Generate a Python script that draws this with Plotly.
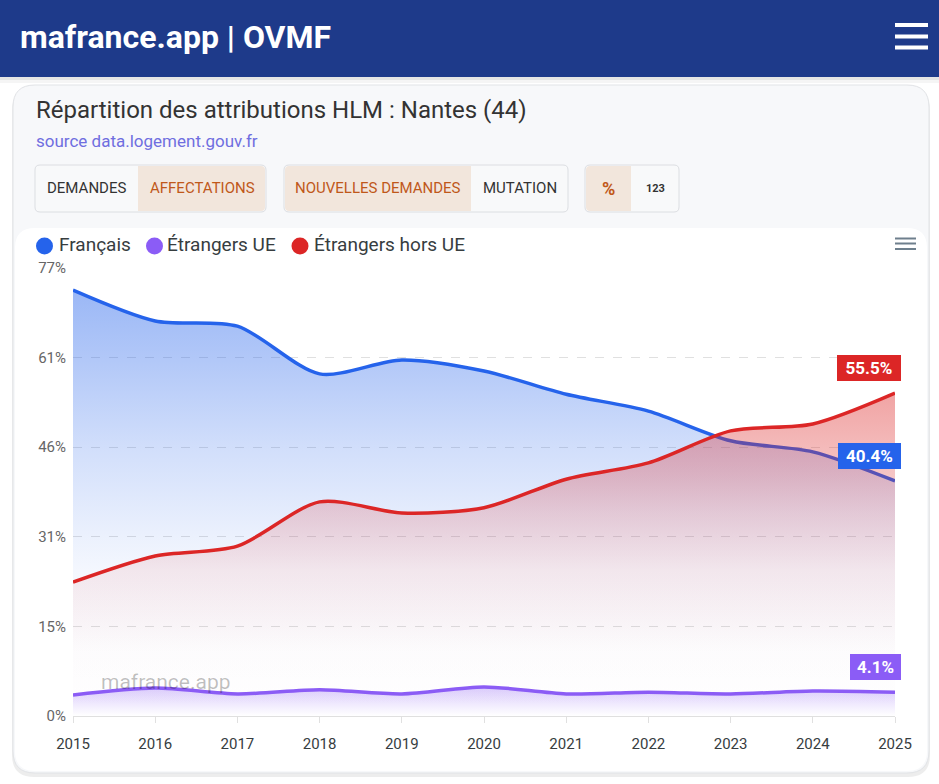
"""
HLM allocation breakdown for Nantes (44), rebuilt with Plotly.
"""

import plotly.graph_objects as go

# Data
YEARS = [2015, 2016, 2017, 2018, 2019, 2020, 2021, 2022, 2023, 2024, 2025]
FRANCAIS = [73.2, 67.9, 67.0, 58.8, 61.2, 59.3, 55.3, 52.4, 47.3, 45.4, 40.4]
ETRANGERS_UE = [3.6, 4.8, 3.8, 4.5, 3.8, 5.0, 3.8, 4.1, 3.8, 4.3, 4.1]
ETRANGERS_HORS_UE = [23.0, 27.5, 29.2, 36.8, 34.9, 35.8, 40.7, 43.5, 49.0, 50.2, 55.5]
Y_TICK_VALUES = [0, 15.4, 30.8, 46.2, 61.6, 77]
Y_TICK_LABELS = ['0%', '15%', '31%', '46%', '61%', '77%']

# fill opacity along the height of each area (0 = baseline, 1 = series max)
BLUE_FADE = [(0, 0), (0.15, 0.01), (0.34, 0.05), (0.42, 0.09), (0.63, 0.21), (0.83, 0.35), (1, 0.46)]
PURPLE_FADE = [(0, 0), (1, 0.32)]
RED_FADE = [(0, 0), (0.2, 0.01), (0.45, 0.08), (0.63, 0.18), (0.75, 0.27), (1, 0.42)]

# name, values, rgb, line colour, fill fade
SERIES = [
    ('Français', FRANCAIS, (37, 99, 235), '#2563eb', BLUE_FADE),
    ('Étrangers UE', ETRANGERS_UE, (139, 92, 246), '#8b5cf6', PURPLE_FADE),
    ('Étrangers hors UE', ETRANGERS_HORS_UE, (220, 38, 38), '#dc2626', RED_FADE),
]
# widths of the end-of-series tags
TAG_WIDTHS = [57, 45, 58]

FONT = 'Roboto'
W, H = 939, 784
# plot area in page pixels
PL, PR, PT, PB = 73, 895, 268, 716

COLORS = {
    'header': '#1e3a8a',
    'card': '#f7f8fa',
    'border': '#e1e3e6',
    'peach': '#f2e6dc',
    'orange': '#c0581a',
    'text': '#333333',
    'grid': '#e0e0e0',
}


def px(x):
    return (x - PL) / (PR - PL)


def py(y):
    return (PB - y) / (PB - PT)


def rect(x0, y0, x1, y1, fill, line=None, layer='below'):
    return dict(type='rect', xref='paper', yref='paper',
                x0=px(x0), x1=px(x1), y0=py(y1), y1=py(y0),
                fillcolor=fill, line=dict(width=1 if line else 0, color=line or fill),
                layer=layer)


def rounded(x0, y0, x1, y1, r, fill, line=None):
    pts = [
        ('M', [(x0 + r, y0)]),
        ('L', [(x1 - r, y0)]),
        ('Q', [(x1, y0), (x1, y0 + r)]),
        ('L', [(x1, y1 - r)]),
        ('Q', [(x1, y1), (x1 - r, y1)]),
        ('L', [(x0 + r, y1)]),
        ('Q', [(x0, y1), (x0, y1 - r)]),
        ('L', [(x0, y0 + r)]),
        ('Q', [(x0, y0), (x0 + r, y0)]),
    ]
    path = ''
    for cmd, coords in pts:
        path += cmd + ' '.join(f'{px(a):.5f},{py(b):.5f}' for a, b in coords) + ' '
    path += 'Z'
    return dict(type='path', xref='paper', yref='paper', path=path,
                fillcolor=fill, line=dict(width=1 if line else 0, color=line or fill),
                layer='below')


def label(x, y, text, size, color, xanchor='left', bold=False):
    return dict(xref='paper', yref='paper', x=px(x), y=py(y), text=f'<b>{text}</b>' if bold else text,
                showarrow=False, xanchor=xanchor, yanchor='middle',
                font=dict(family=FONT, size=size, color=color))


fig = go.Figure()

for name, values, rgb, line_color, fade in SERIES:
    r, g, b = rgb
    scale = [[pos, f'rgba({r},{g},{b},{a})'] for pos, a in fade]
    fig.add_trace(go.Scatter(
        x=YEARS, y=values, name=name, mode='lines',
        line=dict(color=line_color, width=3.5, shape='spline', smoothing=0.8),
        fill='tozeroy',
        fillgradient=dict(type='vertical', start=0, stop=max(values), colorscale=scale),
        showlegend=False,
        hovertemplate='%{x}: %{y:.1f}%<extra>' + name + '</extra>',
    ))

shapes = []
annotations = []

# page header with its shadow
shapes.append(rect(0, 77, W, 80, 'rgba(0,0,0,0.10)'))
shapes.append(rect(0, 80, W, 83, 'rgba(0,0,0,0.04)'))
shapes.append(rect(0, 0, W, 77, COLORS['header']))
for bar_y in (25, 36.5, 47.5):
    shapes.append(rect(895, bar_y - 2, 928, bar_y + 2, 'white'))
annotations.append(label(18, 37, 'mafrance.app | OVMF', 32, 'white', bold=True))

# card
shapes.append(rounded(12, 88, 930, 777, 22, 'rgba(0,0,0,0.07)'))
shapes.append(rounded(13, 85, 929, 773, 22, COLORS['card'], line=COLORS['border']))
shapes.append(rounded(15, 228, 927, 771, 20, 'white'))

annotations.append(label(34, 110, 'Répartition des attributions HLM : Nantes (44)', 24, COLORS['text']))
annotations.append(label(34, 141, 'source data.logement.gouv.fr', 17, '#6f6ee0'))

# toggle buttons
button_groups = [
    [(35, 138, 'DEMANDES', False), (138, 266, 'AFFECTATIONS', True)],
    [(284, 471, 'NOUVELLES DEMANDES', True), (471, 568, 'MUTATION', False)],
    [(585, 631, '%', True), (631, 679, '123', False)],
]
for group in button_groups:
    gx0, gx1 = group[0][0], group[-1][1]
    shapes.append(rounded(gx0, 165, gx1, 212, 5, '#f8f9fa', line='#dcdee2'))
    for bx0, bx1, text, active in group:
        if active:
            left = bx0 == gx0
            shapes.append(rounded(bx0 + 1, 166, bx1 - (0 if left else 1), 211, 4, COLORS['peach']))
            if left:
                shapes.append(rect(bx1 - 5, 166, bx1, 211, COLORS['peach']))
            else:
                shapes.append(rect(bx0, 166, bx0 + 5, 211, COLORS['peach']))
        color = COLORS['orange'] if active else COLORS['text']
        size = 11 if text == '123' else (18 if text == '%' else 15)
        annotations.append(label((bx0 + bx1) / 2, 188.5, text, size, color, xanchor='center',
                                 bold=text in ('%', '123')))

# legend
legend_items = [(44.5, 57, 'Français', '#2563eb'), (154.5, 165, 'Étrangers UE', '#8b5cf6'),
                (300, 312, 'Étrangers hors UE', '#dc2626')]
for cx, tx, text, color in legend_items:
    shapes.append(dict(type='circle', xref='paper', yref='paper',
                       x0=px(cx - 8.5), x1=px(cx + 8.5), y0=py(254.5), y1=py(237.5),
                       fillcolor=color, line=dict(width=0), layer='below'))
    annotations.append(label(tx, 245, text, 19, '#373d3f'))

# chart menu icon
for bar_y in (238.5, 243.5, 249):
    shapes.append(rect(895, bar_y - 1, 916, bar_y + 1, '#6e7f8d', layer='above'))

# watermark
annotations.append(label(99, 682, 'mafrance.app', 21, 'rgba(0,0,0,0.25)'))

# end-of-series value tags
for (name, values, rgb, line_color, fade), tag_w in zip(SERIES, TAG_WIDTHS):
    annotations.append(dict(
        x=YEARS[-1], y=values[-1], xref='x', yref='y',
        text=f'<b>{values[-1]:.1f}%</b>', showarrow=False,
        xanchor='right', yanchor='bottom', xshift=6, yshift=12,
        width=tag_w, align='center',
        font=dict(family=FONT, size=17, color='white'),
        bgcolor=line_color, bordercolor=line_color, borderpad=2,
    ))

fig.update_layout(
    width=W, height=H,
    margin=dict(l=PL, r=W - PR, t=PT, b=H - PB),
    paper_bgcolor='white',
    plot_bgcolor='rgba(0,0,0,0)',
    showlegend=False,
    font=dict(family=FONT, color='#373d3f'),
    shapes=shapes,
    annotations=annotations,
    xaxis=dict(
        range=[YEARS[0], YEARS[-1]], tickvals=YEARS, showgrid=False,
        showline=True, linecolor=COLORS['grid'], linewidth=1,
        ticks='outside', ticklen=6, tickcolor=COLORS['grid'],
        tickfont=dict(size=15, color='#373d3f'), zeroline=False,
        ticklabelstandoff=8,
    ),
    yaxis=dict(
        range=[0, 77], tickvals=Y_TICK_VALUES, ticktext=Y_TICK_LABELS,
        showgrid=True, gridcolor=COLORS['grid'], griddash='dash',
        zeroline=False, ticks='', tickfont=dict(size=15, color='#666666'),
        ticklabelstandoff=6,
    ),
)

# drop the browser's default page margin so the figure sits at the top-left corner
fig.write_html('out.html', config={'displayModeBar': False},
               post_script="document.body.style.margin='0';")
